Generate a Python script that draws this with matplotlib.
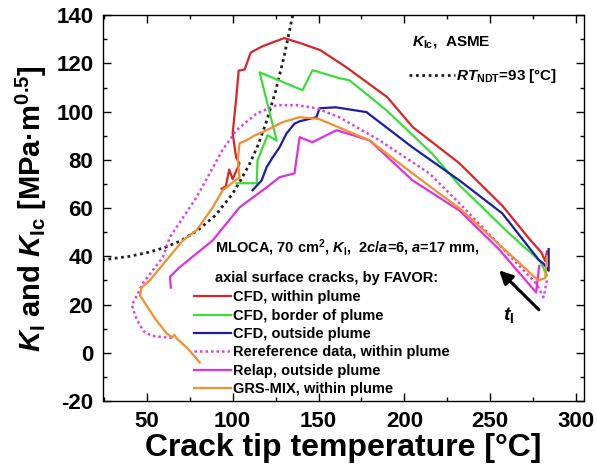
import matplotlib
matplotlib.use("Agg")
import matplotlib.pyplot as plt
from matplotlib.ticker import MultipleLocator

plt.rcParams['font.family'] = ['Liberation Sans', 'DejaVu Sans']
plt.rcParams['font.weight'] = 'bold'
plt.rcParams['axes.unicode_minus'] = False
plt.rcParams['mathtext.fontset'] = 'custom'
plt.rcParams['mathtext.rm'] = 'Liberation Sans:bold'
plt.rcParams['mathtext.bf'] = 'Liberation Sans:bold'
plt.rcParams['mathtext.it'] = 'Liberation Sans:bold:italic'

# ---- datos (T [C], K [MPa m^0.5]) ----
kic_T = [24, 40, 50, 60, 70, 80, 90, 100, 105, 110, 115, 120, 125, 130, 135]
kic_K = [38.5, 40, 41.5, 43.5, 46.5, 51, 57, 66, 72, 78.5, 86.5, 96.5, 108.5, 123, 140]

red_T = [283, 282, 279.7, 273, 257, 232, 205, 190, 166, 151, 145, 139, 130, 117,
         110.5, 107, 103.5, 102, 100, 102, 104, 100, 98, 96, 93.5]
red_K = [42, 38, 41.7, 47, 61, 78.6, 93.5, 106, 118.5, 125.5, 127, 128.5, 130.5, 127,
         124.5, 117.5, 117, 105, 91, 81, 78.5, 72, 76, 69, 68]

green_T = [283, 279, 261, 232, 216, 189.5, 168, 162, 146.5, 140.7, 115.7, 125.6,
           120.3, 114.5, 114, 108, 102.3]
green_K = [32, 38, 49.5, 69.5, 82.7, 100.6, 113, 113.9, 117.2, 108.9, 116.3, 88,
           90.2, 79.8, 70.3, 70.3, 70.3]

blue_T = [284, 284, 281, 278.5, 257, 232, 204.7, 177.9, 160, 150.6, 148.8, 139,
          136, 131.4, 127.3, 123.3, 119.8, 116.9, 111.6]
blue_K = [43, 34, 37, 38.3, 57.8, 71.5, 85.2, 99.8, 101.8, 101.4, 97.7, 96,
          95, 91, 85.2, 81, 77, 71.5, 67.4]

ref_T = [283, 281, 277, 255, 232, 214.5, 185.5, 162, 148.8, 137.2, 125.6, 114, 102.3,
         94, 79, 63.4, 59.3, 47.7, 41.3, 44, 48, 53, 60, 66]
ref_K = [30, 23, 28.5, 45, 62, 74.4, 88.1, 97.7, 101.4, 102.7, 102.7, 99.3, 92.3,
         84, 64.5, 47.9, 39.6, 28.8, 19.7, 14, 9, 7, 6.5, 6]

relap_T = [278.5, 276.7, 255, 232, 204.7, 179.7, 160.5, 146.5, 139, 136, 127.3,
           119.8, 104, 88.4, 69, 63.5, 64]
relap_K = [36, 25, 43, 59, 71.5, 88.1, 92.3, 87.3, 89.4, 74.4, 72.8,
           68.6, 60.3, 46.6, 35.4, 31.5, 27]

grs_T = [283, 282, 278, 255, 232, 220.3, 204.7, 179.7, 150, 139, 129, 119.8, 112.5,
         108, 104, 103, 104, 94.2, 88.4, 79, 71, 51.7, 47, 46, 55, 61.6, 65, 66,
         67.4, 73.3, 80.8]
grs_K = [40, 31, 30, 45, 60, 66.1, 74.4, 88.1, 97, 97.7, 95.6, 92.3, 90,
         88.1, 86.9, 80, 72.8, 67.4, 60.3, 50.8, 46.6, 30, 27, 23.8, 14, 8, 6.4, 7.5,
         6, 2.2, -4]

etiquetas = ['CFD, within plume', 'CFD, border of plume', 'CFD, outside plume',
             'Rereference data, within plume', 'Relap, outside plume',
             'GRS-MIX, within plume']

fig = plt.figure(figsize=(5.97, 4.74), dpi=100)
ax = fig.add_axes([0.1725, 0.154, 0.8055, 0.814])

lk, = ax.plot(kic_T, kic_K, color='#202020', lw=2, ls=(0, (1, 1.3)))
l1, = ax.plot(red_T, red_K, color='#d8262a', lw=1.6)
l2, = ax.plot(green_T, green_K, color='#3ddc3d', lw=1.6)
l3, = ax.plot(blue_T, blue_K, color='#1c1ca8', lw=1.6)
l4, = ax.plot(ref_T, ref_K, color='#e040e0', lw=1.8, ls=(0, (1, 1.2)))
l5, = ax.plot(relap_T, relap_K, color='#e030e0', lw=1.6)
l6, = ax.plot(grs_T, grs_K, color='#f0902e', lw=1.6)

ax.set_xlim(24.5, 304.5)
ax.set_ylim(-20, 140)
ax.xaxis.set_major_locator(MultipleLocator(50))
ax.xaxis.set_minor_locator(MultipleLocator(25))
ax.yaxis.set_major_locator(MultipleLocator(20))
ax.yaxis.set_minor_locator(MultipleLocator(10))
ax.tick_params(which='both', direction='in', top=True, right=True, width=1)
ax.tick_params(which='major', length=6, labelsize=16, pad=7)
ax.tick_params(which='minor', length=3)
for s in ax.spines.values():
    s.set_linewidth(1)

ax.set_xlabel('Crack tip temperature [°C]', fontsize=23, fontweight='bold', labelpad=1)
ax.set_ylabel(r'$K_{\mathrm{I}}$ and $K_{\mathrm{Ic}}$ [MPa·m$^{0.5}$]',
              fontsize=21, fontweight='bold', labelpad=5)

# textos
ax.text(90, 43.7, r'MLOCA, 70 cm$^2$, $K_{\mathrm{I}}$,  2$c$/$a$=6, $a$=17 mm,',
        fontsize=10.5, fontweight='bold', va='center', ha='left')
ax.text(90, 31, 'axial surface cracks, by FAVOR:',
        fontsize=10.5, fontweight='bold', va='center', ha='left')
ax.text(204.5, 128.8, r'$K_{\mathrm{Ic}}$,  ASME', fontsize=11, fontweight='bold',
        va='center', ha='left')

leg = ax.legend([l1, l2, l3, l4, l5, l6], etiquetas, loc='upper left',
                bbox_to_anchor=(0.19, 0.287), frameon=False, fontsize=10.5,
                handlelength=2.5, handletextpad=0.15, labelspacing=0.3,
                borderpad=0, borderaxespad=0)
ax.add_artist(leg)
ax.legend([lk], [r'$RT_{\mathrm{NDT}}$=93 [°C]'], loc='upper left',
          bbox_to_anchor=(0.636, 0.865), frameon=False, fontsize=11,
          handlelength=3.0, handletextpad=0.1, borderpad=0, borderaxespad=0)

# flecha t_I
ax.annotate('', xy=(254, 35), xytext=(279.5, 17),
            arrowprops=dict(arrowstyle='-|>', color='black', lw=2.2,
                            mutation_scale=20))
ax.text(260.5, 15.5, r'$t_{\mathrm{I}}$', fontsize=14, ha='center', va='center')

fig.savefig('out.png', dpi=100)
